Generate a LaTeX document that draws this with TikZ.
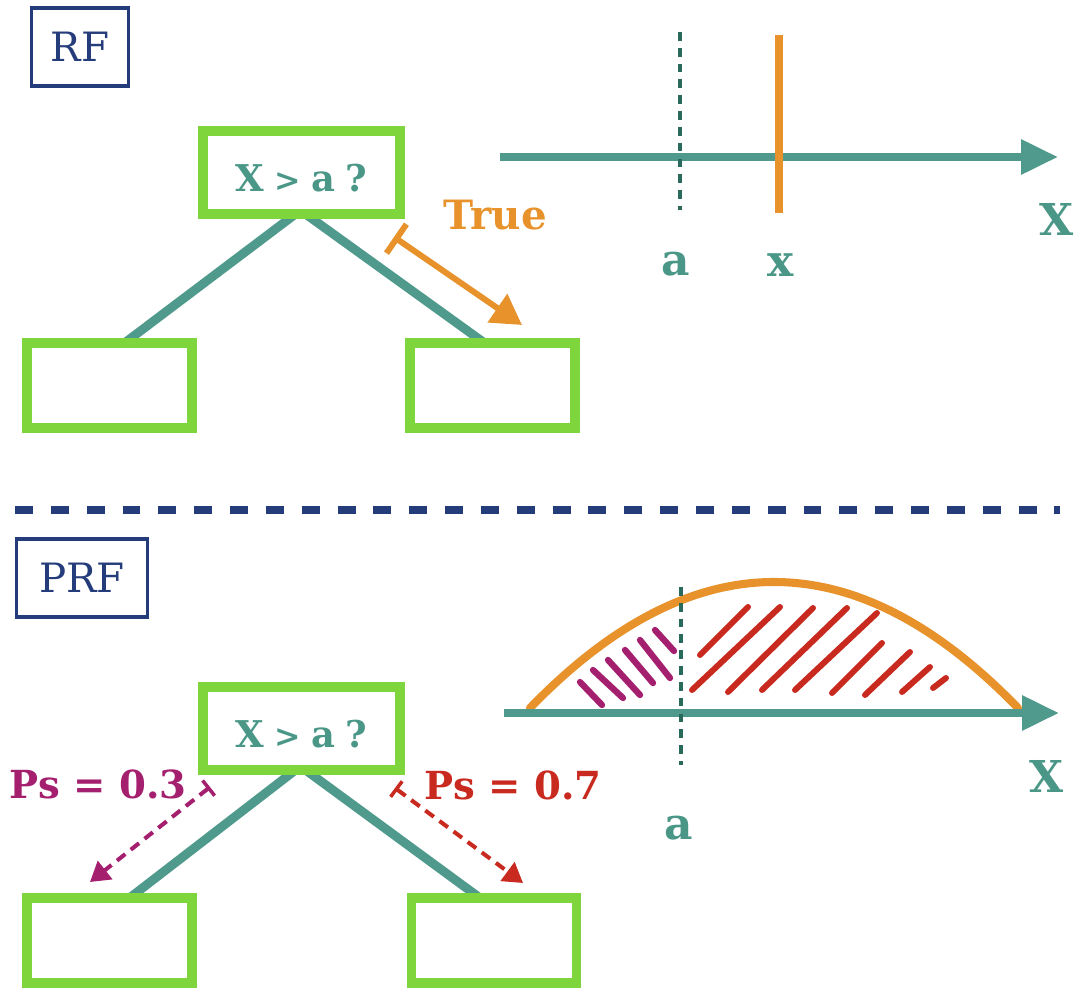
\documentclass[tikz,border=0pt]{standalone}
\usepackage{fontspec}
\setmainfont{DejaVu Serif}
\usetikzlibrary{arrows.meta,calc,backgrounds}

\definecolor{navy}{HTML}{243C7A}
\definecolor{leaf}{HTML}{7ED63C}
\definecolor{tealline}{HTML}{4F9A8C}
\definecolor{tealtext}{HTML}{4A9787}
\definecolor{darkteal}{HTML}{2A6A5C}
\definecolor{amber}{HTML}{E8922C}
\definecolor{plum}{HTML}{A41F6E}
\definecolor{brick}{HTML}{C92A1F}

\newcommand{\splittest}{\raisebox{-3pt}[\height][0pt]{X\hspace{6pt}{\fontsize{18}{18}\selectfont >}\hspace{6pt}a\hspace{6pt}?}}

\tikzset{
  tag/.style={draw=navy, line width=2pt, inner sep=0pt, outer sep=0pt,
    minimum width=1.94cm, minimum height=1.56cm, text=navy, font=\fontsize{23}{23}\selectfont},
  splitbox/.style={draw=leaf, line width=5.6pt, inner sep=0pt, outer sep=0pt,
    minimum width=3.94cm, minimum height=1.66cm, text=tealtext,
    font=\bfseries\fontsize{21}{21}\selectfont},
  leafbox/.style={draw=leaf, line width=5.6pt, inner sep=0pt, outer sep=0pt,
    minimum width=3.3cm, minimum height=1.7cm},
  branch/.style={draw=tealline, line width=5.1pt},
  axis/.style={draw=tealline, line width=4.5pt, -{Triangle[length=21pt,width=19pt]}},
  thresh/.style={draw=darkteal, line width=2.3pt, dash pattern=on 5pt off 4pt},
  axlabel/.style={text=tealtext, font=\bfseries\fontsize{25}{25}\selectfont, inner sep=0pt},
  problabel/.style={font=\bfseries\fontsize{22}{22}\selectfont, inner sep=0pt},
  softarrow/.style={line width=2.3pt, dash pattern=on 6pt off 4pt,
    {Bar[width=11pt,line width=2pt]}-{Triangle[length=11pt,width=13pt]}},
  hatchL/.style={draw=plum, line width=3.6pt, line cap=round},
  hatchR/.style={draw=brick, line width=3.4pt, line cap=round}
}

\begin{document}
\begin{tikzpicture}[x=0.02cm, y=-0.02cm]
  \useasboundingbox (0,0) rectangle (1082,990);

  % ---------- deterministic split ----------
  \node[tag] (rf) at (80,47) {RF};

  \node[splitbox] (root1) at (301.5,172.5) {\splittest};
  \node[leafbox] (l1) at (109.5,385.5) {};
  \node[leafbox] (r1) at (492.5,385.5) {};
  \begin{pgfonlayer}{background}
    \draw[branch] ($(root1.south)+(-6,0)$) -- ($(l1.north)+(15,0)$);
    \draw[branch] ($(root1.south)+(4,0)$) -- ($(r1.north)+(-8,0)$);
  \end{pgfonlayer}

  \coordinate (t0) at (394,237);
  \coordinate (t1) at (522,325);
  \draw[amber, line width=3.4pt,
    {Bar[width=20pt,line width=3.4pt]}-{Triangle[length=17pt,width=19pt]}] (t0) -- (t1);
  \node[problabel, text=amber, font=\bfseries\fontsize{23}{23}\selectfont] (true) at (495,215) {True};

  \coordinate (ax0) at (500,157);
  \coordinate (ax1) at (1058,157);
  \draw[axis] (ax0) -- (ax1);
  \coordinate (a0) at (680,32);
  \coordinate (a1) at (680,210);
  \draw[thresh] (a0) -- (a1);
  \coordinate (x0) at (779,35);
  \coordinate (x1) at (779,213);
  \draw[amber, line width=4pt] (x0) -- (x1);
  \node[axlabel] (la1) at (676,264) {a};
  \node[axlabel] (lx1) at (781,265) {x};
  \node[axlabel] (lX1) at (1057,219) {X};

  % ---------- separator ----------
  \coordinate (s0) at (15,510);
  \coordinate (s1) at (1060,510);
  \draw[navy, line width=4.5pt, dash pattern=on 10.2pt off 10.2pt] (s0) -- (s1);

  % ---------- probabilistic split ----------
  \node[tag, minimum width=2.62cm] (prf) at (82,578) {PRF};

  \node[splitbox] (root2) at (301.5,728.5) {\splittest};
  \node[leafbox] (l2) at (109.5,940.5) {};
  \node[leafbox] (r2) at (494,940.5) {};
  \begin{pgfonlayer}{background}
    \draw[branch] ($(root2.south)+(-6,0)$) -- ($(l2.north)+(20,0)$);
    \draw[branch] ($(root2.south)+(4,0)$) -- ($(r2.north)+(-14,0)$);
  \end{pgfonlayer}

  \node[problabel, text=plum] (p3) at (98,784) {Ps = 0.3};
  \node[problabel, text=brick] (p7) at (513,785) {Ps = 0.7};
  \coordinate (m0) at (210,787);
  \coordinate (m1) at (90,882);
  \draw[softarrow, plum] (m0) -- (m1);
  \coordinate (k0) at (395,788);
  \coordinate (k1) at (523,883);
  \draw[softarrow, brick] (k0) -- (k1);

  % density and shaded probability mass
  \foreach \xa/\ya/\xb/\yb in {580/682/602/705, 593/670/623/698, 608/660/640/695,
      625/650/653/683, 640/640/670/678, 655/630/674/651}
    \draw[hatchL] (\xa,\ya) -- (\xb,\yb);
  \foreach \xa/\ya/\xb/\yb in {700/655/748/607, 692/690/780/607, 728/692/813/608,
      762/690/847/608, 795/690/877/613, 832/693/882/643, 865/695/910/652,
      902/692/930/667, 933/688/946/678}
    \draw[hatchR] (\xa,\ya) -- (\xb,\yb);

  \coordinate (c0) at (530,708);
  \coordinate (c1) at (1018,708);
  \draw[amber, line width=4.6pt, line cap=round] (c0) .. controls (692.7,540) and (855.3,540) .. (c1);

  \coordinate (ax2) at (504,713);
  \coordinate (ax3) at (1059,713);
  \draw[axis] (ax2) -- (ax3);
  \coordinate (a2) at (681,587);
  \coordinate (a3) at (681,765);
  \draw[thresh] (a2) -- (a3);
  \node[axlabel] (la2) at (679,828) {a};
  \node[axlabel] (lX2) at (1047,776) {X};
\end{tikzpicture}
\end{document}
